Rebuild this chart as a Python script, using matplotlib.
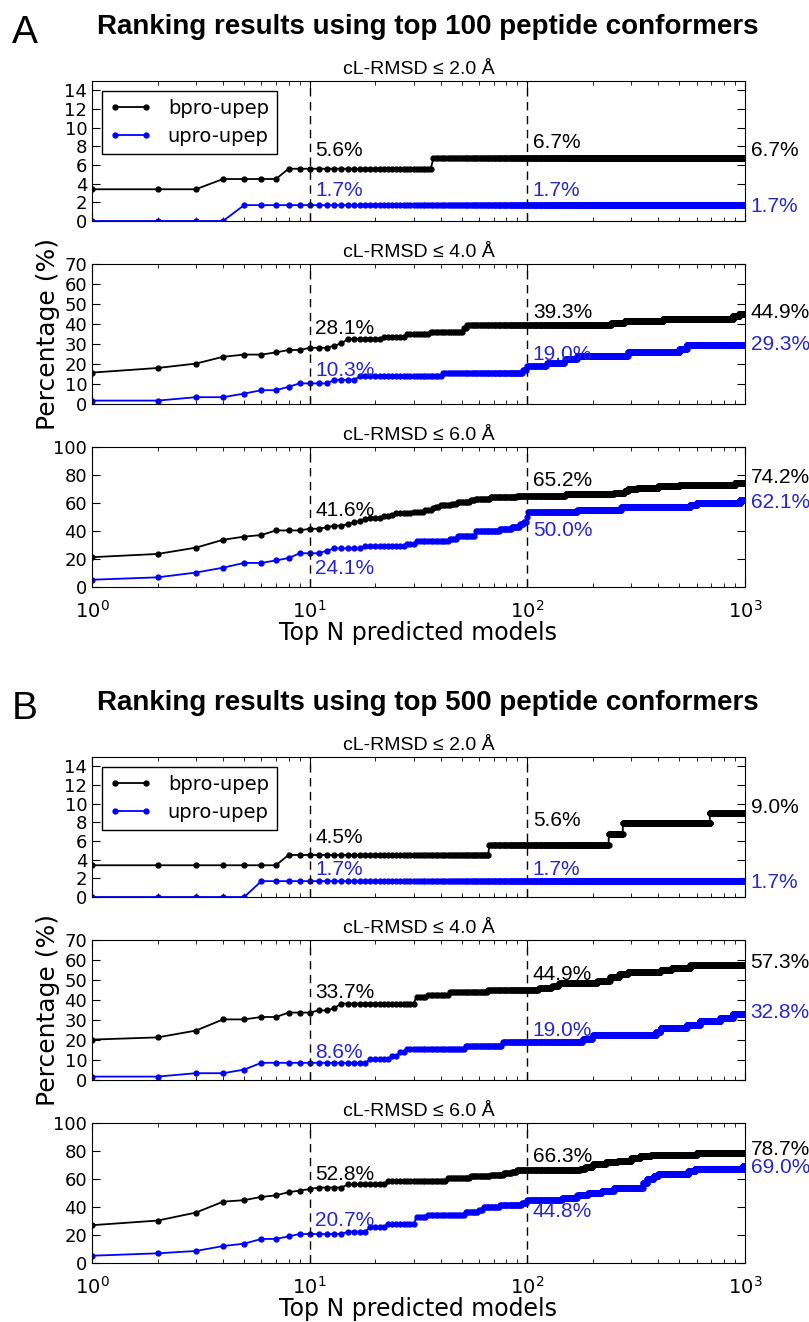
import numpy as np
import matplotlib
matplotlib.use('Agg')
import matplotlib.pyplot as plt
from matplotlib import font_manager

# change points (N where the value starts) and percentage values
a1_bpro_n = [1, 4, 8, 37]
a1_bpro_v = [3.4, 4.5, 5.6, 6.7]
a1_upro_n = [1, 5]
a1_upro_v = [0.0, 1.7]

a2_bpro_n = [1, 2, 3, 4, 5, 7, 8, 10, 13, 14, 15, 22, 28, 36, 51, 53, 243, 280, 420, 880, 940]
a2_bpro_v = [15.7, 18.0, 20.2, 23.6, 24.7, 25.8, 27.0, 28.1, 29.2, 30.3, 32.6, 33.7, 34.8, 36.0,
             38.2, 39.3, 40.4, 41.6, 42.7, 43.8, 44.9]
a2_upro_n = [1, 3, 5, 6, 8, 9, 13, 17, 41, 96, 100, 123, 149, 170, 290, 500, 540]
a2_upro_v = [1.7, 3.4, 5.2, 6.9, 8.6, 10.3, 12.1, 13.8, 15.5, 17.2, 19.0, 20.7, 22.4, 24.1,
             25.9, 27.6, 29.3]

a3_bpro_n = [1, 2, 3, 4, 5, 6, 7, 10, 12, 13, 15, 16, 17, 18, 19, 22, 24, 25, 30, 34, 37, 38,
             40, 45, 48, 55, 58, 68, 90, 150, 250, 280, 290, 320, 400, 500, 900]
a3_bpro_v = [21.3, 23.6, 28.1, 33.7, 36.0, 37.1, 40.4, 41.6, 42.7, 43.8, 44.9, 46.1, 47.2, 48.3,
             49.4, 50.6, 51.7, 52.8, 53.9, 55.1, 56.2, 57.3, 58.4, 59.6, 60.7, 61.8, 62.9, 64.0,
             65.2, 66.3, 67.4, 68.5, 69.7, 70.8, 71.9, 73.0, 74.2]
a3_upro_n = [1, 2, 3, 4, 5, 7, 8, 9, 12, 13, 18, 28, 31, 44, 48, 58, 75, 85, 93, 97, 100, 101,
             170, 270, 560, 600, 950]
a3_upro_v = [5.2, 6.9, 10.3, 13.8, 17.2, 19.0, 20.7, 24.1, 25.9, 27.6, 29.3, 31.0, 32.8, 34.5,
             36.2, 39.7, 41.4, 43.1, 44.8, 46.6, 50.0, 53.4, 55.2, 56.9, 58.6, 60.3, 62.1]

b1_bpro_n = [1, 8, 67, 237, 275, 690]
b1_bpro_v = [3.4, 4.5, 5.6, 6.7, 7.9, 9.0]
b1_upro_n = [1, 6]
b1_upro_v = [0.0, 1.7]

b2_bpro_n = [1, 2, 3, 4, 6, 8, 11, 13, 14, 31, 35, 44, 66, 113, 130, 140, 210, 240, 265, 290,
             410, 460, 560]
b2_bpro_v = [20.2, 21.3, 24.7, 30.3, 31.5, 33.7, 34.8, 36.0, 38.2, 41.6, 42.7, 43.8, 44.9, 46.1,
             47.2, 48.3, 49.4, 51.7, 52.8, 53.9, 55.1, 56.2, 57.3]
b2_upro_n = [1, 3, 5, 6, 19, 24, 26, 28, 52, 77, 180, 200, 390, 410, 540, 620, 770, 880]
b2_upro_v = [1.7, 3.4, 5.2, 8.6, 10.3, 12.1, 13.8, 15.5, 17.2, 19.0, 20.7, 22.4, 24.1, 25.9,
             27.6, 29.3, 31.0, 32.8]

b3_bpro_n = [1, 2, 3, 4, 5, 6, 7, 8, 9, 10, 11, 15, 23, 43, 55, 68, 78, 85, 90, 175, 185, 200,
             230, 260, 300, 330, 370, 600]
b3_bpro_v = [27.0, 30.3, 36.0, 43.8, 44.9, 47.2, 48.3, 50.6, 51.7, 52.8, 53.9, 56.2, 58.4, 60.7,
             61.8, 62.9, 64.0, 65.2, 66.3, 67.4, 68.5, 70.8, 71.9, 73.0, 75.3, 76.4, 77.5, 78.7]
b3_upro_n = [1, 2, 3, 4, 5, 6, 8, 9, 15, 19, 23, 31, 35, 52, 60, 63, 75, 95, 100, 145, 170, 190,
             220, 250, 340, 355, 380, 400, 550, 590, 980]
b3_upro_v = [5.2, 6.9, 8.6, 12.1, 13.8, 17.2, 19.0, 20.7, 22.4, 25.9, 27.6, 32.8, 34.5, 36.2,
             37.9, 39.7, 41.4, 43.1, 44.8, 46.6, 48.3, 50.0, 51.7, 53.4, 56.9, 60.3, 62.1, 63.8,
             65.5, 67.2, 69.0]

# labels read at N=10, N=100 and N=1000 : (text, y) for bpro then upro
a_labels = [
    [('5.6%', 7.6), ('6.7%', 8.4), ('6.7%', 7.6), ('1.7%', 3.3), ('1.7%', 3.3), ('1.7%', 1.6)],
    [('28.1%', 38), ('39.3%', 46), ('44.9%', 46), ('10.3%', 17), ('19.0%', 25), ('29.3%', 30)],
    [('41.6%', 55), ('65.2%', 76), ('74.2%', 78), ('24.1%', 13), ('50.0%', 40), ('62.1%', 60)],
]
b_labels = [
    [('4.5%', 6.4), ('5.6%', 8.2), ('9.0%', 9.6), ('1.7%', 2.9), ('1.7%', 2.9), ('1.7%', 1.5)],
    [('33.7%', 44), ('44.9%', 53), ('57.3%', 59), ('8.6%', 14), ('19.0%', 25), ('32.8%', 34)],
    [('52.8%', 63), ('66.3%', 76), ('78.7%', 81), ('20.7%', 30), ('44.8%', 37), ('69.0%', 68)],
]

subtitles = ['cL-RMSD \u2264 2.0 \u00c5', 'cL-RMSD \u2264 4.0 \u00c5', 'cL-RMSD \u2264 6.0 \u00c5']
ylims = [15, 70, 100]
ysteps = [2, 10, 20]

N = np.arange(1, 1001)

names = [f.name for f in font_manager.fontManager.ttflist]
narrow = 'Liberation Sans Narrow' if 'Liberation Sans Narrow' in names else 'Liberation Sans'
TXT_BLUE = '#2828c8'


def expand(ns, vs):
    idx = np.searchsorted(ns, N, side='right') - 1
    return np.array(vs)[idx]


def draw_panel(fig, top_px, letter, title, series, labels):
    W, H = 809.0, 1322.0
    left = 92 / W
    width = (745 - 92) / W
    tops = [top_px, top_px + 183, top_px + 366]
    fig.text(12 / W, 1 - (top_px - 48) / H, letter, fontsize=28, family=narrow, va='center')
    fig.text(428 / W, 1 - (top_px - 54) / H, title, fontsize=20, family=narrow,
             weight='bold', ha='center', va='center')
    for i in range(3):
        ax = fig.add_axes([left, 1 - (tops[i] + 140) / H, width, 140 / H])
        bn, bv, un, uv = series[i]
        ax.plot(N, expand(bn, bv), 'k-', marker='o', markersize=3.5, lw=1.3, label='bpro-upep')
        ax.plot(N, expand(un, uv), 'b-', marker='o', markersize=3.5, lw=1.3, label='upro-upep')
        ax.axvline(10, color='k', ls='--', dashes=(6, 4), lw=1)
        ax.axvline(100, color='k', ls='--', dashes=(6, 4), lw=1)
        ax.set_xscale('log')
        ax.set_xlim(1, 1000)
        ax.set_ylim(0, ylims[i])
        ax.set_yticks(np.arange(0, ylims[i] + 1, ysteps[i]))
        ax.tick_params(which='both', direction='in', top=True, right=True, labelsize=13)
        ax.tick_params(which='major', length=6)
        ax.tick_params(which='minor', length=3)
        ax.tick_params(axis='x', labelsize=14, pad=9)
        if i < 2:
            ax.set_xticklabels([])
        else:
            ax.set_xlabel('Top N predicted models', fontsize=17, labelpad=0)
        if i == 1:
            ax.set_ylabel('Percentage (%)', fontsize=18, labelpad=3)
        ax.set_title(subtitles[i], fontsize=14, family=narrow, pad=5)
        xs = [10.6, 106, 1060]
        for j, (t, y) in enumerate(labels[i]):
            c = 'k' if j < 3 else TXT_BLUE
            ax.text(xs[j % 3], y, t, color=c, fontsize=15, family=narrow,
                    ha='left', va='center', clip_on=False)
        if i == 0:
            leg = ax.legend(loc='upper left', fontsize=14, numpoints=2, fancybox=False,
                            borderaxespad=0.5, handlelength=2.2, framealpha=1)
            leg.get_frame().set_edgecolor('k')


fig = plt.figure(figsize=(8.09, 13.22), dpi=100)
draw_panel(fig, 81, 'A', 'Ranking results using top 100 peptide conformers',
           [(a1_bpro_n, a1_bpro_v, a1_upro_n, a1_upro_v),
            (a2_bpro_n, a2_bpro_v, a2_upro_n, a2_upro_v),
            (a3_bpro_n, a3_bpro_v, a3_upro_n, a3_upro_v)], a_labels)
draw_panel(fig, 757, 'B', 'Ranking results using top 500 peptide conformers',
           [(b1_bpro_n, b1_bpro_v, b1_upro_n, b1_upro_v),
            (b2_bpro_n, b2_bpro_v, b2_upro_n, b2_upro_v),
            (b3_bpro_n, b3_bpro_v, b3_upro_n, b3_upro_v)], b_labels)
fig.savefig('out.png', dpi=100)
